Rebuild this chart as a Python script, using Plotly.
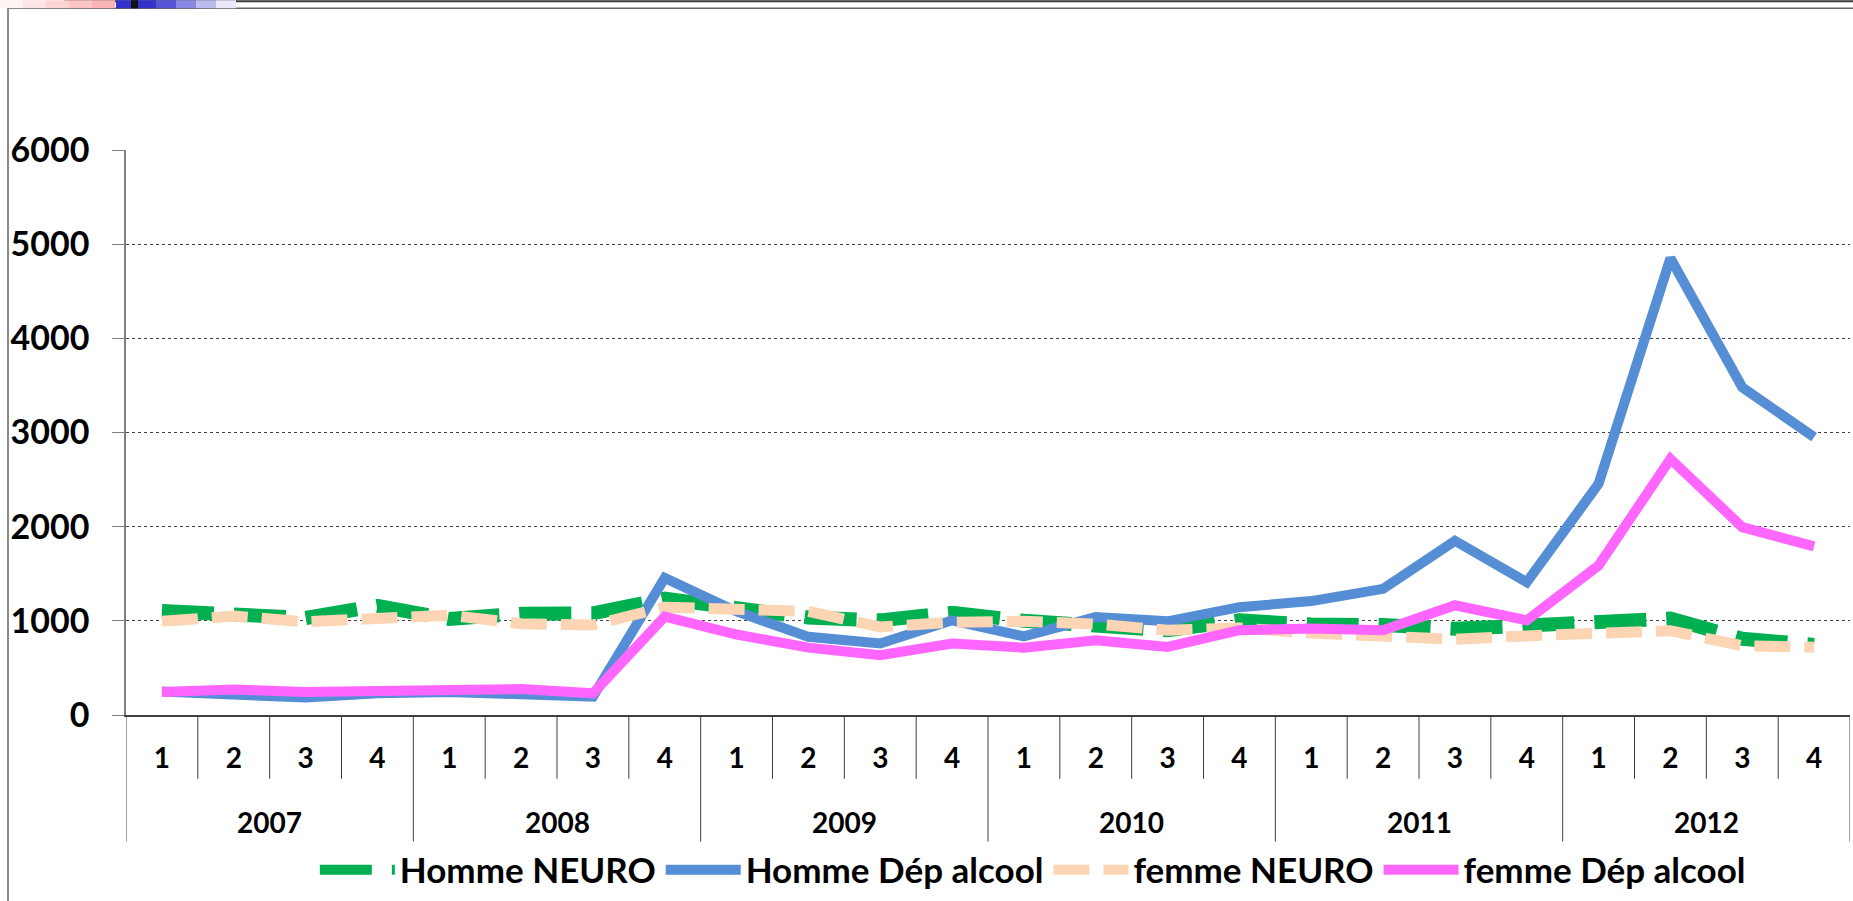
import plotly.graph_objects as go

# quarterly counts 2007-2012
years = ["2007", "2008", "2009", "2010", "2011", "2012"]
quarters = ["1", "2", "3", "4"]

homme_neuro = [1105, 1060, 1030, 1160, 1020, 1075, 1080, 1235, 1120, 1035, 1005, 1085,
               1000, 960, 900, 1005, 960, 955, 915, 950, 975, 1025, 810, 745]
homme_dep_alcool = [250, 230, 185, 230, 245, 220, 195, 1455, 1100, 830, 760, 1005,
                    835, 1040, 995, 1145, 1210, 1340, 1850, 1410, 2455, 4850, 3480, 2950]
femme_neuro = [995, 1050, 990, 1025, 1060, 970, 955, 1145, 1115, 1100, 935, 985,
               995, 965, 900, 925, 870, 830, 805, 840, 880, 895, 735, 720]
femme_dep_alcool = [245, 270, 245, 255, 280, 275, 230, 1045, 855, 715, 635, 758,
                    715, 793, 723, 900, 918, 900, 1165, 1005, 1587, 2720, 1995, 1790]

y_ticks = [0, 1000, 2000, 3000, 4000, 5000, 6000]

FONT = "Lato"
x_idx = list(range(len(years) * len(quarters)))
quarter_labels = quarters * len(years)

fig = go.Figure()

series = [
    ("Homme NEURO", homme_neuro, "#00B050", 14, "52px,20px"),
    ("Homme Dép alcool", homme_dep_alcool, "#558ED5", 10, "solid"),
    ("femme NEURO", femme_neuro, "#FCD5B5", 11, "36px,14px"),
    ("femme Dép alcool", femme_dep_alcool, "#FF66FF", 10, "solid"),
]
for name, vals, color, width, dash in series:
    fig.add_trace(
        go.Scatter(
            x=x_idx,
            y=vals,
            mode="lines",
            name=name,
            line=dict(color=color, width=width, dash=dash),
        )
    )

# category dividers below the axis (short between quarters, long between years)
n = len(x_idx)
for b in range(n + 1):
    is_year = b % len(quarters) == 0
    fig.add_shape(
        type="line", xref="x", yref="paper",
        x0=b - 0.5, x1=b - 0.5, y0=0, y1=-0.224 if is_year else -0.113,
        line=dict(color="#404040", width=1),
    )

# year labels
for k, yr in enumerate(years):
    fig.add_annotation(
        x=k * len(quarters) + (len(quarters) - 1) / 2, xref="x",
        y=-0.189, yref="paper", yanchor="middle",
        text=f"<b>{yr}</b>", showarrow=False,
        font=dict(family=FONT, size=28, color="black"),
    )

# chart frame and slide decoration
fig.add_shape(type="rect", xref="paper", yref="paper",
              x0=(8 - 126) / 1724, x1=1.05, y0=(716 - 8) / 566, y1=-0.4,
              line=dict(color="#666666", width=1.5), fillcolor="rgba(0,0,0,0)")
fig.add_shape(type="rect", xref="paper", yref="paper", layer="above",
              x0=(64 - 126) / 1724, x1=1.05, y0=(716 - 0) / 566, y1=(716 - 2) / 566,
              line=dict(width=0), fillcolor="#3a3a3a")
pinks = ["#FFF4F4", "#FEE4E4", "#FDD4D4", "#FCC4C4", "#FBB4B4"]
for i, c in enumerate(pinks):
    fig.add_shape(type="rect", xref="paper", yref="paper",
                  x0=(i * 23 - 126) / 1724, x1=((i + 1) * 23 - 126) / 1724,
                  y0=716 / 566, y1=(716 - 8) / 566, line=dict(width=0), fillcolor=c)
blues = ["#3333CC", "#3333CC", "#5555D6", "#8888E2", "#BBBBEE", "#E8E8F8"]
for i, c in enumerate(blues):
    fig.add_shape(type="rect", xref="paper", yref="paper",
                  x0=(116 + i * 20 - 126) / 1724, x1=(136 + i * 20 - 126) / 1724,
                  y0=716 / 566, y1=(716 - 8) / 566, line=dict(width=0), fillcolor=c)
fig.add_shape(type="rect", xref="paper", yref="paper",
              x0=(131 - 126) / 1724, x1=(138 - 126) / 1724,
              y0=716 / 566, y1=(716 - 8) / 566, line=dict(width=0), fillcolor="#111111")

fig.update_layout(
    width=1853,
    height=901,
    margin=dict(l=126, r=3, t=150, b=185),
    paper_bgcolor="white",
    plot_bgcolor="white",
    font=dict(family=FONT, color="black"),
    showlegend=True,
    legend=dict(
        orientation="h", x=0.526, xanchor="center", y=-0.272, yanchor="middle",
        itemwidth=75, font=dict(family=FONT, size=35, color="black", weight="bold"),
        bgcolor="rgba(0,0,0,0)",
    ),
    xaxis=dict(
        range=[-0.5, n - 0.5],
        tickvals=x_idx,
        ticktext=[f"<b>{q}</b>" for q in quarter_labels],
        ticks="",
        ticklabelstandoff=18,
        tickfont=dict(family=FONT, size=28, color="black"),
        showgrid=False,
        zeroline=False,
        showline=True,
        linecolor="#404040",
        linewidth=1.5,
    ),
    yaxis=dict(
        range=[0, 6000],
        tickvals=y_ticks,
        ticktext=[f"<b>{v}</b>" for v in y_ticks],
        ticks="outside",
        ticklen=12,
        tickcolor="#808080",
        ticklabelstandoff=16,
        tickfont=dict(family=FONT, size=34, color="black"),
        showgrid=True,
        gridcolor="#404040",
        griddash="dot",
        gridwidth=1,
        zeroline=False,
        showline=True,
        linecolor="#808080",
        linewidth=1.5,
    ),
)

fig.write_html(
    "out.html",
    config={"displayModeBar": False},
    post_script="document.body.style.margin='0';document.body.style.overflow='hidden';",
)
